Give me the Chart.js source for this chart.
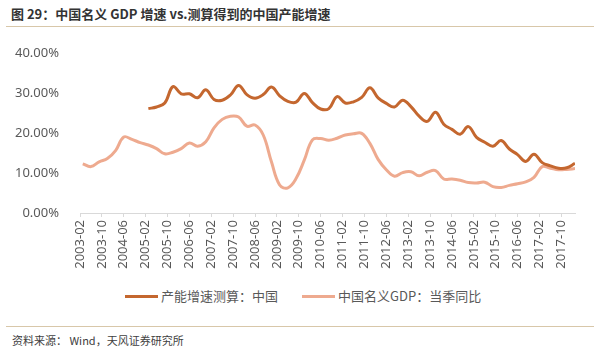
<!DOCTYPE html>
<html>
<head>
<meta charset="utf-8">
<script src="https://cdn.jsdelivr.net/npm/chart.js@4.4.1/dist/chart.umd.min.js"></script>
<style>
  body { margin: 0; width: 600px; height: 353px; background: #fff; position: relative; overflow: hidden;
         font-family: 'Noto Sans', 'Noto Sans CJK SC', sans-serif; }
  .title { position: absolute; left: 11px; top: 4px; font-size: 13px; font-weight: bold; color: #333;
           font-family: 'Noto Sans CJK SC', sans-serif; }
  .rule { position: absolute; left: 6px; right: 6px; height: 1px; background: #d8c7a9; }
  .chart-box { position: absolute; left: 0; top: 30px; width: 600px; height: 250px; }
  .legend { position: absolute; top: 286px; left: 0; width: 600px; font-size: 13px; color: #595959;
            font-family: 'Noto Sans CJK SC', sans-serif; }
  .legend .item { position: absolute; top: 0; white-space: nowrap; }
  .legend .swatch { display: inline-block; width: 33px; height: 3px; vertical-align: middle; margin-right: 3px; position: relative; top: -1px; }
  .source { position: absolute; left: 12px; top: 332px; font-size: 11px; color: #404040;
            font-family: 'Noto Sans CJK SC', sans-serif; }
</style>
</head>
<body>
<div class="title">图 29：中国名义 GDP 增速 vs.测算得到的中国产能增速</div>
<div class="rule" style="top:26px"></div>
<div class="chart-box"><canvas id="chart"></canvas></div>
<div class="legend">
  <span class="item" style="left:125px"><span class="swatch" style="background:#c4672f"></span>产能增速测算：中国</span>
  <span class="item" style="left:302px"><span class="swatch" style="background:#eeaa8f"></span>中国名义GDP：当季同比</span>
</div>
<div class="rule" style="top:326px"></div>
<div class="source">资料来源： Wind，天风证券研究所</div>

<script>
// axis starts at 2003-02 (month index 0)
const startYear = 2003;
const startMonth = 2;
const axisEnd = 181;
const tickStep = 8;

// quarter-end dates 2003-03 .. 2018-03
const quarters = [];
for (let y = 2003; y <= 2018; y++) {
    for (const m of [3, 6, 9, 12]) {
        if (y === 2018 && m > 3) break;
        quarters.push(y + '-' + String(m).padStart(2, '0'));
    }
}

// 中国名义GDP：当季同比 (%)
const gdpGrowth = [
    12.3, 11.6, 12.8, 13.6, 15.6, 19.0, 18.4, 17.6, 17.0, 16.1,
    14.8, 15.2, 16.1, 17.5, 16.7, 17.8, 21.3, 23.4, 24.2, 24.0,
    21.7, 22.0, 19.5, 12.8, 7.0, 6.3, 8.6, 13.2, 18.3, 18.6,
    18.2, 18.7, 19.5, 19.8, 19.9, 17.4, 13.4, 10.8, 9.2, 10.1,
    10.3, 9.3, 10.2, 10.6, 8.5, 8.5, 8.2, 7.6, 7.5, 7.7,
    6.6, 6.4, 6.9, 7.3, 7.8, 8.9, 11.6, 11.2, 10.8, 10.9,
    11.1
];

// 产能增速测算：中国 (%)
const capacityGrowth = [
    null, null, null, null, null, null, null, null, 26.1, 26.5,
    27.5, 31.6, 29.8, 29.8, 28.8, 30.8, 28.4, 28.2, 29.5, 31.9,
    29.6, 28.7, 29.6, 31.5, 29.3, 27.9, 27.7, 29.9, 27.6, 26.0,
    26.1, 29.1, 27.5, 27.8, 28.9, 31.3, 28.8, 27.4, 26.5, 28.2,
    26.6, 24.2, 22.9, 25.2, 22.2, 20.9, 19.7, 21.6, 18.9, 17.7,
    16.7, 18.1, 16.0, 14.6, 12.9, 14.7, 12.6, 11.8, 11.2, 11.3,
    12.4
];

const yTicks = [0, 10, 20, 30, 40];

function monthIndex(dateStr) {
    const [y, m] = dateStr.split('-').map(Number);
    return (y - startYear) * 12 + (m - startMonth);
}
function monthLabel(idx) {
    const total = idx + startMonth - 1;
    const y = startYear + Math.floor(total / 12);
    const m = total % 12 + 1;
    return y + '-' + String(m).padStart(2, '0');
}
const toPoints = (values) => values.map((v, i) => ({ x: monthIndex(quarters[i]), y: v }));

new Chart(document.getElementById('chart').getContext('2d'), {
    type: 'line',
    data: {
        datasets: [
            { label: '产能增速测算：中国', data: toPoints(capacityGrowth), borderColor: '#c4672f', borderWidth: 3, pointRadius: 0, tension: 0.4 },
            { label: '中国名义GDP：当季同比', data: toPoints(gdpGrowth), borderColor: '#eeaa8f', borderWidth: 3, pointRadius: 0, tension: 0.4 }
        ]
    },
    options: {
        responsive: true,
        maintainAspectRatio: false,
        animation: false,
        layout: { padding: { top: 23, right: 25, left: 0, bottom: 0 } },
        plugins: { legend: { display: false }, tooltip: { enabled: false } },
        scales: {
            x: {
                type: 'linear',
                min: 0,
                max: axisEnd,
                afterFit: (scale) => { scale.height = 67; },
                grid: { drawOnChartArea: false, drawTicks: true, tickLength: 4, color: '#d9d9d9' },
                border: { display: true, color: '#d9d9d9' },
                ticks: {
                    stepSize: tickStep,
                    includeBounds: false,
                    autoSkip: false,
                    minRotation: 90,
                    maxRotation: 90,
                    padding: 3,
                    color: '#595959',
                    font: { family: "'Noto Sans', sans-serif", size: 13 },
                    callback: (v) => monthLabel(v)
                }
            },
            y: {
                min: 0,
                max: 40,
                afterFit: (scale) => { scale.width = 80; },
                afterBuildTicks: (scale) => { scale.ticks = yTicks.map(v => ({ value: v })); },
                grid: { display: false },
                border: { display: false },
                ticks: {
                    padding: 13,
                    color: '#595959',
                    font: { family: "'Noto Sans', sans-serif", size: 13 },
                    callback: (v) => v.toFixed(2) + '%'
                }
            }
        }
    }
});
</script>
</body>
</html>
